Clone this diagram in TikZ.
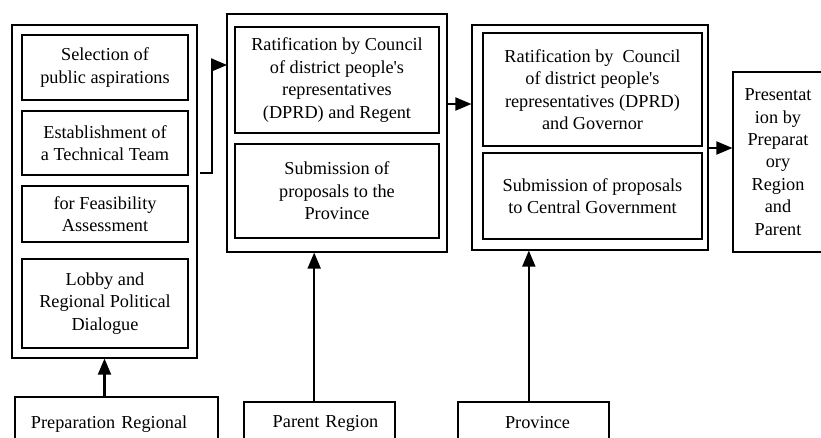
\documentclass[tikz,border=0pt]{standalone}
\usepackage{fontspec}
\setmainfont{Liberation Serif}
\usepackage{tikz}
\usetikzlibrary{arrows,backgrounds}

\begin{document}
\begin{tikzpicture}[x=0.75pt,y=-0.75pt,
    outer/.style={draw, line width=1pt, inner sep=0pt},
    inner/.style={draw, line width=1.4pt, align=center, inner sep=0pt},
    base/.style={draw, line width=1pt, align=center, inner sep=0pt},
    arr/.style={line width=1.8pt, -triangle 45}]
      \useasboundingbox (0,0) rectangle (821,437);
      \clip (0,0) rectangle (821,437);
      \fontsize{13.7}{16.8}\selectfont
      % first stage
      \node[name=o1, outer, minimum width=185*0.75pt, minimum height=333*0.75pt] at (104.5,191.5){};
      \node[name=s1, inner, minimum width=166*0.75pt, minimum height=65*0.75pt] at (105,67.5){Selection of\\public aspirations};
      \node[name=s2, inner, minimum width=166*0.75pt, minimum height=64*0.75pt] at (105,143){Establishment of\\a Technical Team};
      \node[name=s3, inner, minimum width=166*0.75pt, minimum height=56*0.75pt] at (105,214){for Feasibility\\Assessment};
      \node[name=s4, inner, minimum width=166*0.75pt, minimum height=89*0.75pt] at (105,303.5){Lobby and\\Regional Political\\Dialogue};
      % second stage
      \node[name=o2, outer, minimum width=220*0.75pt, minimum height=238*0.75pt] at (337,133){};
      \node[name=r1, inner, minimum width=204*0.75pt, minimum height=106*0.75pt] at (337,80){Ratification by Council\\of district people\textquotesingle s\\representatives\\(DPRD) and Regent};
      \node[name=r2, inner, minimum width=204*0.75pt, minimum height=94*0.75pt] at (337,191){Submission of\\proposals to the\\Province};
      % third stage
      \node[name=o3, outer, minimum width=236*0.75pt, minimum height=225*0.75pt] at (590,137.5){};
      \node[name=g1, inner, minimum width=219*0.75pt, minimum height=113*0.75pt] at (592.5,89.5){Ratification by\ \ Council\\of district people\textquotesingle s\\representatives (DPRD)\\and Governor};
      \node[name=g2, inner, minimum width=219*0.75pt, minimum height=86*0.75pt] at (592.5,196){Submission of proposals\\to Central Government};
      % last stage
      \node[name=pres, base, minimum width=90*0.75pt, minimum height=180*0.75pt] at (778,162){Presentat\\ion by\\Preparat\\ory\\Region\\and\\Parent};
      % actors
      \node[name=prep, base, text width=171*0.75pt, align=left, inner xsep=16*0.75pt, minimum height=54*0.75pt] at (116.5,424){Preparation Regional};
      \node[name=par, base, text width=141*0.75pt, inner xsep=5*0.75pt, minimum height=42*0.75pt] at (319.5,423){\hspace*{9pt}Parent Region};
      \node[name=prov, base, text width=141*0.75pt, inner xsep=5*0.75pt, minimum height=42*0.75pt] at (533.5,423){\hspace*{6pt}Province};
      % connectors
      \coordinate (e1) at (200,173);
      \coordinate (e2) at (227,65);
      \coordinate (a2) at (447,104);
      \coordinate (a3) at (708,148);
      \draw[arr] (e1) -- ++(12,0) |- (e2);
      \draw[arr] (a2) -- (a2 -| o3.west);
      \draw[arr] (a3) -- (a3 -| pres.west);
      \draw[arr] (o1.south |- prep.north) -- (o1.south);
      \draw[arr] ([xshift=-4pt]par.north) -- ([xshift=-4pt]par.north |- o2.south);
      \draw[arr] ([xshift=-3.5pt]prov.north) -- ([xshift=-3.5pt]prov.north |- o3.south);
    \end{tikzpicture}
\end{document}
